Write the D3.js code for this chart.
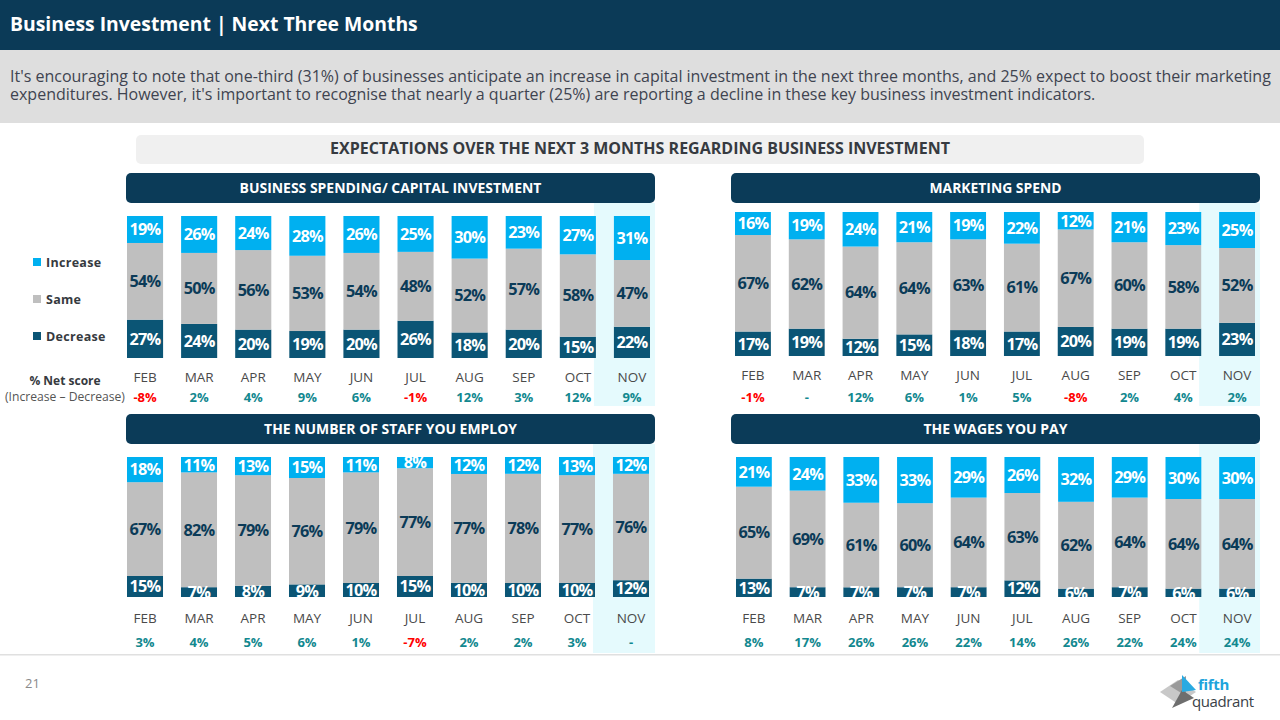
<!DOCTYPE html>
<html>
<head>
<meta charset="utf-8">
<script src="https://cdn.jsdelivr.net/npm/d3@7"></script>
<style>
  html, body { margin: 0; padding: 0; background: #ffffff; }
  svg { display: block; }
  text { font-family: "Open Sans", "Noto Sans", sans-serif; }
</style>
</head>
<body>
<svg id="chart" width="1280" height="720"></svg>
<script>
// ---------------- DATA ----------------
const months = ["FEB", "MAR", "APR", "MAY", "JUN", "JUL", "AUG", "SEP", "OCT", "NOV"];
const seriesNames = ["Increase", "Same", "Decrease"];

const capitalIncrease = [19, 26, 24, 28, 26, 25, 30, 23, 27, 31];
const capitalSame     = [54, 50, 56, 53, 54, 48, 52, 57, 58, 47];
const capitalDecrease = [27, 24, 20, 19, 20, 26, 18, 20, 15, 22];
const capitalNet      = [-8, 2, 4, 9, 6, -1, 12, 3, 12, 9];

const marketingIncrease = [16, 19, 24, 21, 19, 22, 12, 21, 23, 25];
const marketingSame     = [67, 62, 64, 64, 63, 61, 67, 60, 58, 52];
const marketingDecrease = [17, 19, 12, 15, 18, 17, 20, 19, 19, 23];
const marketingNet      = [-1, 0, 12, 6, 1, 5, -8, 2, 4, 2];

const staffIncrease = [18, 11, 13, 15, 11, 8, 12, 12, 13, 12];
const staffSame     = [67, 82, 79, 76, 79, 77, 77, 78, 77, 76];
const staffDecrease = [15, 7, 8, 9, 10, 15, 10, 10, 10, 12];
const staffNet      = [3, 4, 5, 6, 1, -7, 2, 2, 3, 0];

const wagesIncrease = [21, 24, 33, 33, 29, 26, 32, 29, 30, 30];
const wagesSame     = [65, 69, 61, 60, 64, 63, 62, 64, 64, 64];
const wagesDecrease = [13, 7, 7, 7, 7, 12, 6, 7, 6, 6];
const wagesNet      = [8, 17, 26, 26, 22, 14, 26, 22, 24, 24];

const highlightMonth = "NOV";

// ---------------- STYLE ----------------
const NAVY = "#0b3b58";
const colors = { Increase: "#00b0f0", Same: "#bfbfbf", Decrease: "#0b5575" };
const labelColors = { Increase: "#ffffff", Same: "#0b3b58", Decrease: "#ffffff" };
const POS = "#12888f", NEG = "#ff0000";

const svg = d3.select("#chart");

function fitText(sel, width) {
  const node = sel.node();
  const len = node.getComputedTextLength();
  const fs = parseFloat(sel.attr("font-size"));
  sel.attr("font-size", (fs * width / len).toFixed(2));
}

// Header
svg.append("rect").attr("x", 0).attr("y", 0).attr("width", 1280).attr("height", 50).attr("fill", "#0b3a57");
const title = svg.append("text").attr("x", 10).attr("y", 31).attr("fill", "#fff")
  .attr("font-size", 19).attr("font-weight", 700)
  .text("Business Investment | Next Three Months");
fitText(title, 408);

// Commentary band
svg.append("rect").attr("x", 0).attr("y", 50).attr("width", 1280).attr("height", 73).attr("fill", "#dedede");
const l1 = svg.append("text").attr("x", 10).attr("y", 81.5).attr("fill", "#3f4450").attr("font-size", 16)
  .text("It's encouraging to note that one-third (31%) of businesses anticipate an increase in capital investment in the next three months, and 25% expect to boost their marketing");
fitText(l1, 1262);
svg.append("text").attr("x", 10).attr("y", 100).attr("fill", "#3f4450").attr("font-size", l1.attr("font-size"))
  .text("expenditures. However, it's important to recognise that nearly a quarter (25%) are reporting a decline in these key business investment indicators.");

// Sub-title box
svg.append("rect").attr("x", 136).attr("y", 135).attr("width", 1008).attr("height", 29).attr("rx", 5).attr("fill", "#f0f0f0");
const st = svg.append("text").attr("x", 640).attr("y", 154).attr("text-anchor", "middle").attr("fill", "#363a40")
  .attr("font-size", 14).attr("font-weight", 700)
  .text("EXPECTATIONS OVER THE NEXT 3 MONTHS REGARDING BUSINESS INVESTMENT");
fitText(st, 620);

// Legend
const legendY = [262.5, 299.5, 336.5];
seriesNames.forEach((s, i) => {
  svg.append("rect").attr("x", 33).attr("y", legendY[i] - 4.5).attr("width", 8).attr("height", 8).attr("fill", colors[s]);
  svg.append("text").attr("x", 46).attr("y", legendY[i] + 4.5).attr("fill", "#363a40")
    .attr("font-size", 12.5).attr("font-weight", 700).attr("letter-spacing", 0.3).text(s);
});
svg.append("text").attr("x", 65).attr("y", 385).attr("text-anchor", "middle").attr("fill", "#363a40")
  .attr("font-size", 12).attr("font-weight", 700).text("% Net score");
const nsub = svg.append("text").attr("x", 5).attr("y", 400.5).attr("fill", "#555").attr("font-size", 12.5)
  .text("(Increase \u2013 Decrease)");
fitText(nsub, 120);

// Panels
const panels = [
  { title: "BUSINESS SPENDING/ CAPITAL INVESTMENT", inc: capitalIncrease, same: capitalSame, dec: capitalDecrease, net: capitalNet,
    hx: 126, hw: 529, hy: 173, x0: 127, x1: 650, top: 216, bottom: 358, monthY: 381.5, netY: 401.5, hlTop: 203, hlBottom: 406 },
  { title: "MARKETING SPEND", inc: marketingIncrease, same: marketingSame, dec: marketingDecrease, net: marketingNet,
    hx: 731, hw: 529, hy: 173, x0: 735, x1: 1255, top: 212, bottom: 356, monthY: 379.5, netY: 401.5, hlTop: 203, hlBottom: 406 },
  { title: "THE NUMBER OF STAFF YOU EMPLOY", inc: staffIncrease, same: staffSame, dec: staffDecrease, net: staffNet,
    hx: 126, hw: 529, hy: 414, x0: 127, x1: 649, top: 457, bottom: 597, monthY: 623, netY: 646.5, hlTop: 444, hlBottom: 653 },
  { title: "THE WAGES YOU PAY", inc: wagesIncrease, same: wagesSame, dec: wagesDecrease, net: wagesNet,
    hx: 731, hw: 529, hy: 414, x0: 736, x1: 1255, top: 457, bottom: 597, monthY: 623, netY: 646.5, hlTop: 444, hlBottom: 653 }
];

const titleWidths = [302, 132, 253, 144];

panels.forEach((p, pi) => {
  const g = svg.append("g");
  const rows = months.map((m, i) => ({ month: m, Increase: p.inc[i], Same: p.same[i], Decrease: p.dec[i], net: p.net[i] }));

  const x = d3.scaleBand().domain(months).range([p.x0, p.x1]).paddingInner(0.333).paddingOuter(0);
  const y = d3.scaleLinear().domain([0, 1]).range([p.bottom, p.top]);

  // highlight column
  const hlX = x(highlightMonth) - 20;
  g.append("rect").attr("x", hlX).attr("y", p.hlTop)
    .attr("width", p.hx + p.hw - hlX).attr("height", p.hlBottom - p.hlTop).attr("fill", "#e5fafd");

  // header
  g.append("rect").attr("x", p.hx).attr("y", p.hy).attr("width", p.hw).attr("height", 30).attr("rx", 5).attr("fill", NAVY);
  const ht = g.append("text").attr("x", p.hx + p.hw / 2).attr("y", p.hy + 19.5).attr("text-anchor", "middle")
    .attr("fill", "#fff").attr("font-size", 13).attr("font-weight", 700).text(p.title);
  fitText(ht, titleWidths[pi]);

  // stacked bars (Decrease at bottom, then Same, then Increase)
  const stack = d3.stack().keys(["Decrease", "Same", "Increase"]).offset(d3.stackOffsetExpand);
  const series = stack(rows);

  const clipId = "clip" + pi;
  svg.append("clipPath").attr("id", clipId).append("rect")
    .attr("x", p.x0 - 5).attr("y", p.top).attr("width", p.x1 - p.x0 + 10).attr("height", p.bottom - p.top);

  series.forEach(s => {
    g.append("g").selectAll("rect").data(s).join("rect")
      .attr("x", d => x(d.data.month))
      .attr("width", x.bandwidth())
      .attr("y", d => y(d[1]))
      .attr("height", d => y(d[0]) - y(d[1]))
      .attr("fill", colors[s.key]);
  });
  const lg = g.append("g").attr("clip-path", `url(#${clipId})`);
  series.forEach(s => {
    lg.append("g").selectAll("text").data(s).join("text")
      .attr("x", d => x(d.data.month) + x.bandwidth() / 2)
      .attr("y", d => (y(d[0]) + y(d[1])) / 2 + 5.8)
      .attr("text-anchor", "middle")
      .attr("fill", labelColors[s.key])
      .attr("font-size", 16.3).attr("font-weight", 700).attr("letter-spacing", -0.8)
      .text(d => d.data[s.key] + "%");
  });

  // month axis
  const axis = d3.axisBottom(x).tickSize(0).tickPadding(0);
  const ag = g.append("g").attr("transform", `translate(0,${p.monthY})`).call(axis);
  ag.select(".domain").remove();
  ag.selectAll("text").attr("dy", 0).attr("y", 0).attr("fill", "#4a4a4a")
    .attr("font-size", 13.5).attr("font-family", "'Open Sans', sans-serif");

  // net scores
  g.append("g").selectAll("text").data(rows).join("text")
    .attr("x", d => x(d.month) + x.bandwidth() / 2)
    .attr("y", p.netY)
    .attr("text-anchor", "middle")
    .attr("font-size", 13).attr("font-weight", 700)
    .attr("fill", d => d.net < 0 ? NEG : POS)
    .text(d => d.net === 0 ? "-" : d.net + "%");
});

// footer
svg.append("rect").attr("x", 0).attr("y", 654).attr("width", 1280).attr("height", 1.5).attr("fill", "#e0e0e0");
svg.append("text").attr("x", 25).attr("y", 688).attr("fill", "#8a8a8a").attr("font-size", 13).text("21");

// logo
const logo = svg.append("g");
logo.append("polygon").attr("points", "1160,692 1178,680 1196,692 1178,704").attr("fill", "#c8c8c8");
logo.append("polygon").attr("points", "1170,686 1186,676 1186,696").attr("fill", "#9a9a9a");
logo.append("polygon").attr("points", "1172,708 1182,690 1194,698").attr("fill", "#6e6e6e");
logo.append("polygon").attr("points", "1182,675 1196,690 1182,692").attr("fill", "#29aae2");
logo.append("text").attr("x", 1198).attr("y", 690).attr("fill", "#1ea4dc").attr("font-size", 15).attr("font-weight", 700)
  .attr("letter-spacing", -0.3).text("fifth");
logo.append("text").attr("x", 1192).attr("y", 707).attr("fill", "#3a3f47").attr("font-size", 15)
  .attr("letter-spacing", -0.4).text("quadrant");
</script>
</body>
</html>
